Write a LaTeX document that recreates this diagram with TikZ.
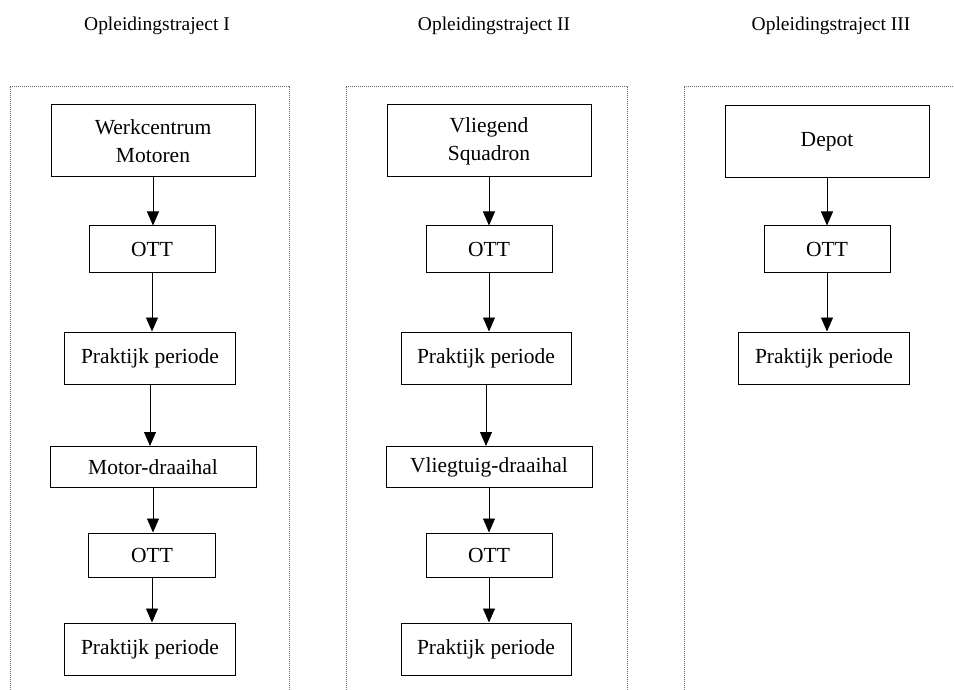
\documentclass[tikz,border=0pt]{standalone}
\usepackage{fontspec}
\setmainfont{Liberation Serif}
\usetikzlibrary{arrows.meta}
\begin{document}
\begin{tikzpicture}[x=1pt,y=-1pt]
\tikzset{
 bx/.style={draw=black, line width=1pt, inner sep=0pt, align=center, font=\fontsize{21.5}{28}\selectfont},
 arr/.style={line width=0.9pt, -{Triangle[width=12pt,length=14pt]}},
 frm/.style={draw=black!60, line width=0.8pt, dash pattern=on 1pt off 1pt},
 ttl/.style={font=\fontsize{19.5}{23}\selectfont}
}
\useasboundingbox (0,0) rectangle (954,690);
% titles
\node[ttl] (t1) at (157,26) {Opleidingstraject I};
\node[ttl] (t2) at (494,26) {Opleidingstraject II};
\node[ttl] (t3) at (831,26) {Opleidingstraject III};
% frames
\draw[frm] (10,690) -- (10,86) -- (289,86) -- (289,690);
\draw[frm] (346,690) -- (346,86) -- (627,86) -- (627,690);
\draw[frm] (684,690) -- (684,86) -- (954,86);
% column 1
\node[bx, minimum width=204, minimum height=72] (a1) at (153,141) {Werkcentrum\\Motoren};
\node[bx, minimum width=126, minimum height=46] (a2) at (152,249) {OTT};
\node[bx, minimum width=171, minimum height=52] (a3) at (150,358) {Praktijk periode};
\node[bx, minimum width=206, minimum height=41] (a4) at (153,467) {Motor-draaihal};
\node[bx, minimum width=127, minimum height=44] (a5) at (152,555) {OTT};
\node[bx, minimum width=171, minimum height=52] (a6) at (150,649) {Praktijk periode};
% column 2
\node[bx, minimum width=204, minimum height=72] (b1) at (489,141) {Vliegend\\Squadron};
\node[bx, minimum width=126, minimum height=46] (b2) at (489,249) {OTT};
\node[bx, minimum width=170, minimum height=52] (b3) at (486,358) {Praktijk periode};
\node[bx, minimum width=206, minimum height=41] (b4) at (489,467) {Vliegtuig-draaihal};
\node[bx, minimum width=126, minimum height=44] (b5) at (489,555) {OTT};
\node[bx, minimum width=170, minimum height=52] (b6) at (486,649) {Praktijk periode};
% column 3
\node[bx, minimum width=204, minimum height=72] (c1) at (827,142) {Depot};
\node[bx, minimum width=126, minimum height=46] (c2) at (827,249) {OTT};
\node[bx, minimum width=171, minimum height=52] (c3) at (824,358) {Praktijk periode};
% arrows
\foreach \p/\q in {a1/a2,a2/a3,a3/a4,a4/a5,a5/a6,b1/b2,b2/b3,b3/b4,b4/b5,b5/b6,c1/c2,c2/c3}
  \draw[arr] (\p.south) -- (\p.south |- \q.north);
\end{tikzpicture}
\end{document}
